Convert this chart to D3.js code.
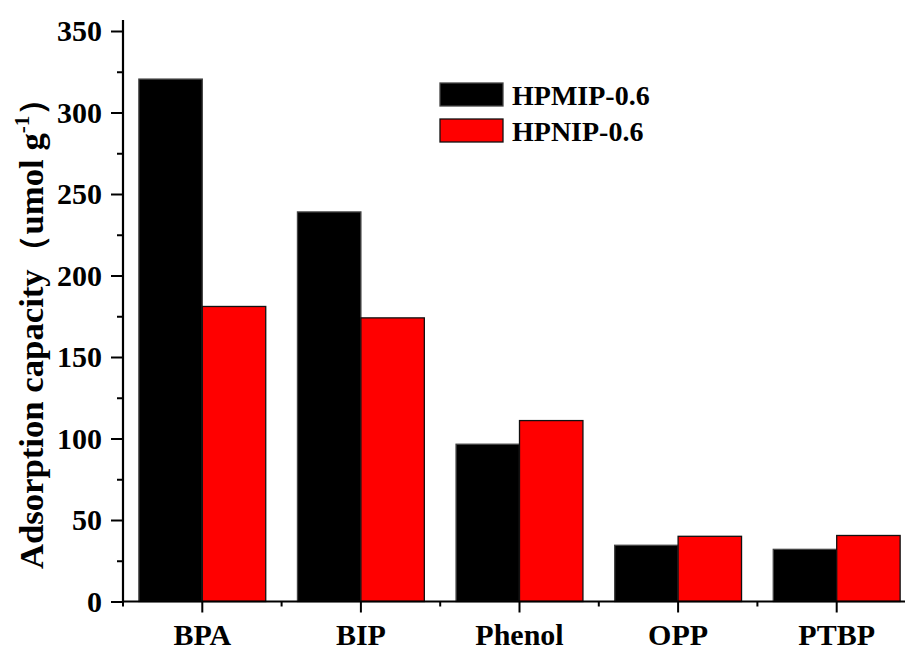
<!DOCTYPE html>
<html>
<head>
<meta charset="utf-8">
<script src="https://cdn.jsdelivr.net/npm/d3@7"></script>
<style>
  html, body { margin: 0; padding: 0; background: #fff; }
  svg { display: block; }
  text { font-family: "Liberation Serif", "Times New Roman", serif; font-weight: bold; fill: #000; }
</style>
</head>
<body>
<svg id="chart" width="905" height="651"></svg>
<script>
// ---- data ----
const categories = ["BPA", "BIP", "Phenol", "OPP", "PTBP"];
const seriesNames = ["HPMIP-0.6", "HPNIP-0.6"];
const hpmipValues = [320.5, 239, 96.5, 34.5, 32];
const hpnipValues = [181, 174, 111, 40, 40.5];
const seriesColors = ["#000000", "#ff0000"];
const yMajorTicks = [0, 50, 100, 150, 200, 250, 300, 350];
const yMinorTicks = [25, 75, 125, 175, 225, 275, 325];
const yLabel = "Adsorption capacity";

(function () {
const svg = d3.select("#chart");
const mLeft = 123, mBottom = 601.5, mTop = 31;
const step = 158.6;

const x = d3.scaleBand()
  .domain(categories)
  .range([mLeft, mLeft + step * categories.length])
  .paddingInner(0.2)
  .paddingOuter(0.1);

const x1 = d3.scaleBand()
  .domain(seriesNames)
  .range([0, x.bandwidth()]);

const y = d3.scaleLinear().domain([0, 350]).range([mBottom, mTop]);

const rows = categories.map((c, i) => ({
  cat: c,
  vals: [hpmipValues[i], hpnipValues[i]]
}));

// bars
const g = svg.append("g");
rows.forEach(r => {
  r.vals.forEach((v, j) => {
    g.append("rect")
      .attr("x", x(r.cat) + x1(seriesNames[j]))
      .attr("y", y(v))
      .attr("width", x1.bandwidth())
      .attr("height", y(0) - y(v))
      .attr("fill", seriesColors[j])
      .attr("stroke", j === 0 ? "#444" : "#111")
      .attr("stroke-width", 1.3);
  });
});

// y axis
const yAxisG = svg.append("g").attr("transform", `translate(${mLeft},0)`);
yAxisG.call(d3.axisLeft(y).tickValues(yMajorTicks).tickSize(12).tickPadding(9).tickFormat(d3.format("d")));
yAxisG.append("g").call(d3.axisLeft(y).tickValues(yMinorTicks).tickSize(6).tickFormat(""));
yAxisG.selectAll(".domain").remove();
yAxisG.selectAll("line").attr("stroke", "#000").attr("stroke-width", 2);
yAxisG.selectAll("text").style("font-size", "30px").attr("font-family", null);
yAxisG.append("line")
  .attr("x1", 0).attr("x2", 0)
  .attr("y1", y(0) + 1).attr("y2", y.range()[1] - 11)
  .attr("stroke", "#000").attr("stroke-width", 2.2);

// x axis
const xAxisG = svg.append("g").attr("transform", `translate(0,${mBottom})`);
xAxisG.call(d3.axisBottom(x).tickSize(11).tickPadding(11));
xAxisG.selectAll(".domain").remove();
xAxisG.selectAll("line").attr("stroke", "#000").attr("stroke-width", 2);
xAxisG.selectAll("text").style("font-size", "30px").attr("font-family", null);
const boundaries = d3.range(categories.length + 1).map(k => x.range()[0] + k * x.step());
xAxisG.selectAll(".minor").data(boundaries).join("line")
  .attr("class", "minor")
  .attr("x1", d => d).attr("x2", d => d)
  .attr("y1", 0).attr("y2", 5)
  .attr("stroke", "#000").attr("stroke-width", 2);
xAxisG.append("line")
  .attr("x1", mLeft - 1).attr("x2", x.range()[1])
  .attr("y1", 0).attr("y2", 0)
  .attr("stroke", "#000").attr("stroke-width", 2.2);

// y label
const lbl = svg.append("text")
  .attr("text-anchor", "middle")
  .style("font-size", "33px");
lbl.append("tspan").text(yLabel + "（umol g");
lbl.append("tspan").text("-1").style("font-size", "20px").attr("dy", -14);
lbl.append("tspan").text("）").attr("dy", 14);
const len = lbl.node().getComputedTextLength();
const sx = Math.max(0.8, Math.min(1.4, 488 / len));
lbl.attr("transform", `translate(43,325) rotate(-90) scale(${sx},1)`);

// legend
const leg = svg.append("g").attr("transform", "translate(440,83)");
seriesNames.forEach((s, j) => {
  const row = leg.append("g").attr("transform", `translate(0,${j * 36})`);
  row.append("rect")
    .attr("x", 0).attr("y", 0).attr("width", 63).attr("height", 23)
    .attr("fill", seriesColors[j])
    .attr("stroke", j === 0 ? "#444" : "#111").attr("stroke-width", 1.3);
  row.append("text")
    .attr("x", 72).attr("y", 22)
    .style("font-size", "28px")
    .text(s);
});
})();
</script>
</body>
</html>
